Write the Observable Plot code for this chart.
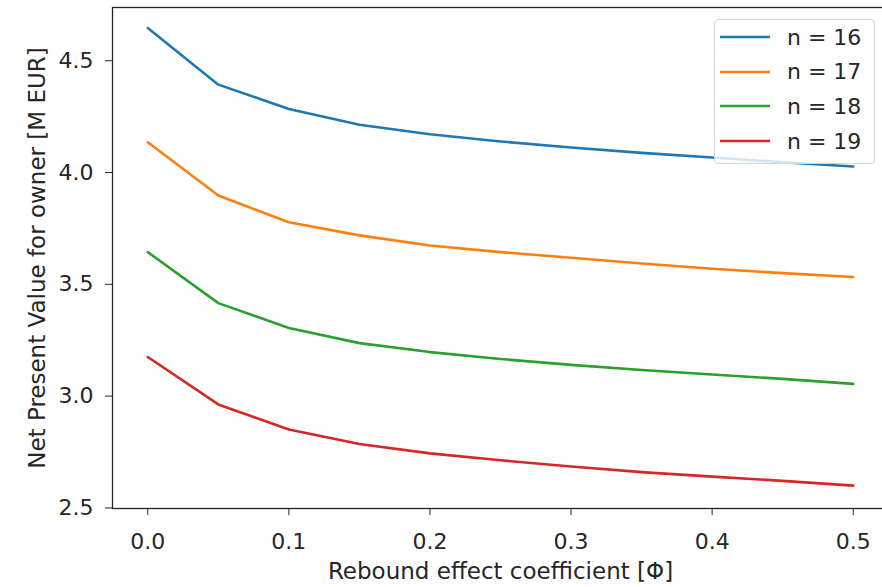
<!DOCTYPE html>
<html>
<head>
<meta charset="utf-8">
<script src="https://cdn.jsdelivr.net/npm/d3@7"></script>
<script src="https://cdn.jsdelivr.net/npm/@observablehq/plot@0.6"></script>
<style>
  html, body { margin: 0; padding: 0; background: #fff; }
  #wrap { position: relative; width: 882px; height: 587px; overflow: hidden; background: #fff; }
  #wrap > svg { max-width: none !important; width: 888px; height: 587px; display: block; }
  #wrap > svg g[aria-label="x-axis label"], #wrap > svg g[aria-label="y-axis label"] { font-size: 23px; }
  #legend {
    position: absolute; left: 714px; top: 19px; width: 159px; height: 143px;
    border: 1px solid #d6d6d6; border-radius: 4px; background: rgba(255,255,255,0.8);
    font-family: "DejaVu Sans", sans-serif; font-size: 22px; color: #262626;
  }
  #legend .row { position: absolute; left: 0; height: 34px; display: flex; align-items: center; }
  #legend svg { margin-left: 5px; margin-right: 17px; }
</style>
</head>
<body>
<div id="wrap"><div id="legend"></div></div>
<script>
// Rebound effect coefficient Φ
const phi = [0, 0.05, 0.1, 0.15, 0.2, 0.25, 0.3, 0.35, 0.4, 0.45, 0.5];

// Net present value for the owner [M EUR], one series per n
const npv16 = [4.646, 4.393, 4.284, 4.214, 4.171, 4.139, 4.112, 4.088, 4.067, 4.046, 4.027];
const npv17 = [4.135, 3.897, 3.778, 3.719, 3.674, 3.644, 3.619, 3.593, 3.570, 3.550, 3.533];
const npv18 = [3.644, 3.416, 3.305, 3.237, 3.197, 3.166, 3.140, 3.117, 3.097, 3.077, 3.055];
const npv19 = [3.175, 2.963, 2.851, 2.786, 2.744, 2.713, 2.685, 2.660, 2.640, 2.621, 2.600];

const seriesNames = ["n = 16", "n = 17", "n = 18", "n = 19"];
const seriesColors = ["#1f77b4", "#ff7f0e", "#2ca02c", "#d62728"];
const xTicks = [0, 0.1, 0.2, 0.3, 0.4, 0.5];
const yTicks = [2.5, 3.0, 3.5, 4.0, 4.5];

const allSeries = [npv16, npv17, npv18, npv19];
const rows = allSeries.flatMap((vals, i) =>
  vals.map((v, j) => ({phi: phi[j], npv: v, n: seriesNames[i]}))
);

const fmt = d3.format(".1f");

const chart = Plot.plot({
  width: 888,
  height: 587,
  marginLeft: 112,
  marginRight: 0,
  marginTop: 7,
  marginBottom: 79,
  style: {fontFamily: "DejaVu Sans, sans-serif", fontSize: "22px", color: "#262626", background: "#fff"},
  x: {domain: [-0.025, 0.525]},
  y: {domain: [2.4975, 4.738]},
  color: {domain: seriesNames, range: seriesColors},
  marks: [
    Plot.axisX({ticks: xTicks, tickFormat: fmt, tickSize: 7, tickPadding: 18,
      label: "Rebound effect coefficient [Φ]", labelAnchor: "center", labelArrow: false, labelOffset: 70}),
    Plot.axisY({ticks: yTicks, tickFormat: fmt, tickSize: 7, tickPadding: 12,
      label: "Net Present Value for owner [M EUR]", labelAnchor: "center", labelArrow: false, labelOffset: 84}),
    Plot.line(rows, {x: "phi", y: "npv", z: "n", stroke: "n", strokeWidth: 2.6}),
    Plot.frame({stroke: "#222", strokeWidth: 1.3})
  ]
});

const wrap = document.getElementById("wrap");
wrap.insertBefore(chart, wrap.firstChild);

// legend entries
const legend = document.getElementById("legend");
seriesNames.forEach((name, i) => {
  const row = document.createElement("div");
  row.className = "row";
  row.style.top = (i * 34.7) + "px";
  row.innerHTML = `<svg width="50" height="10"><line x1="0" x2="50" y1="5" y2="5" stroke="${seriesColors[i]}" stroke-width="2.6"/></svg><span>${name}</span>`;
  legend.appendChild(row);
});
</script>
</body>
</html>
